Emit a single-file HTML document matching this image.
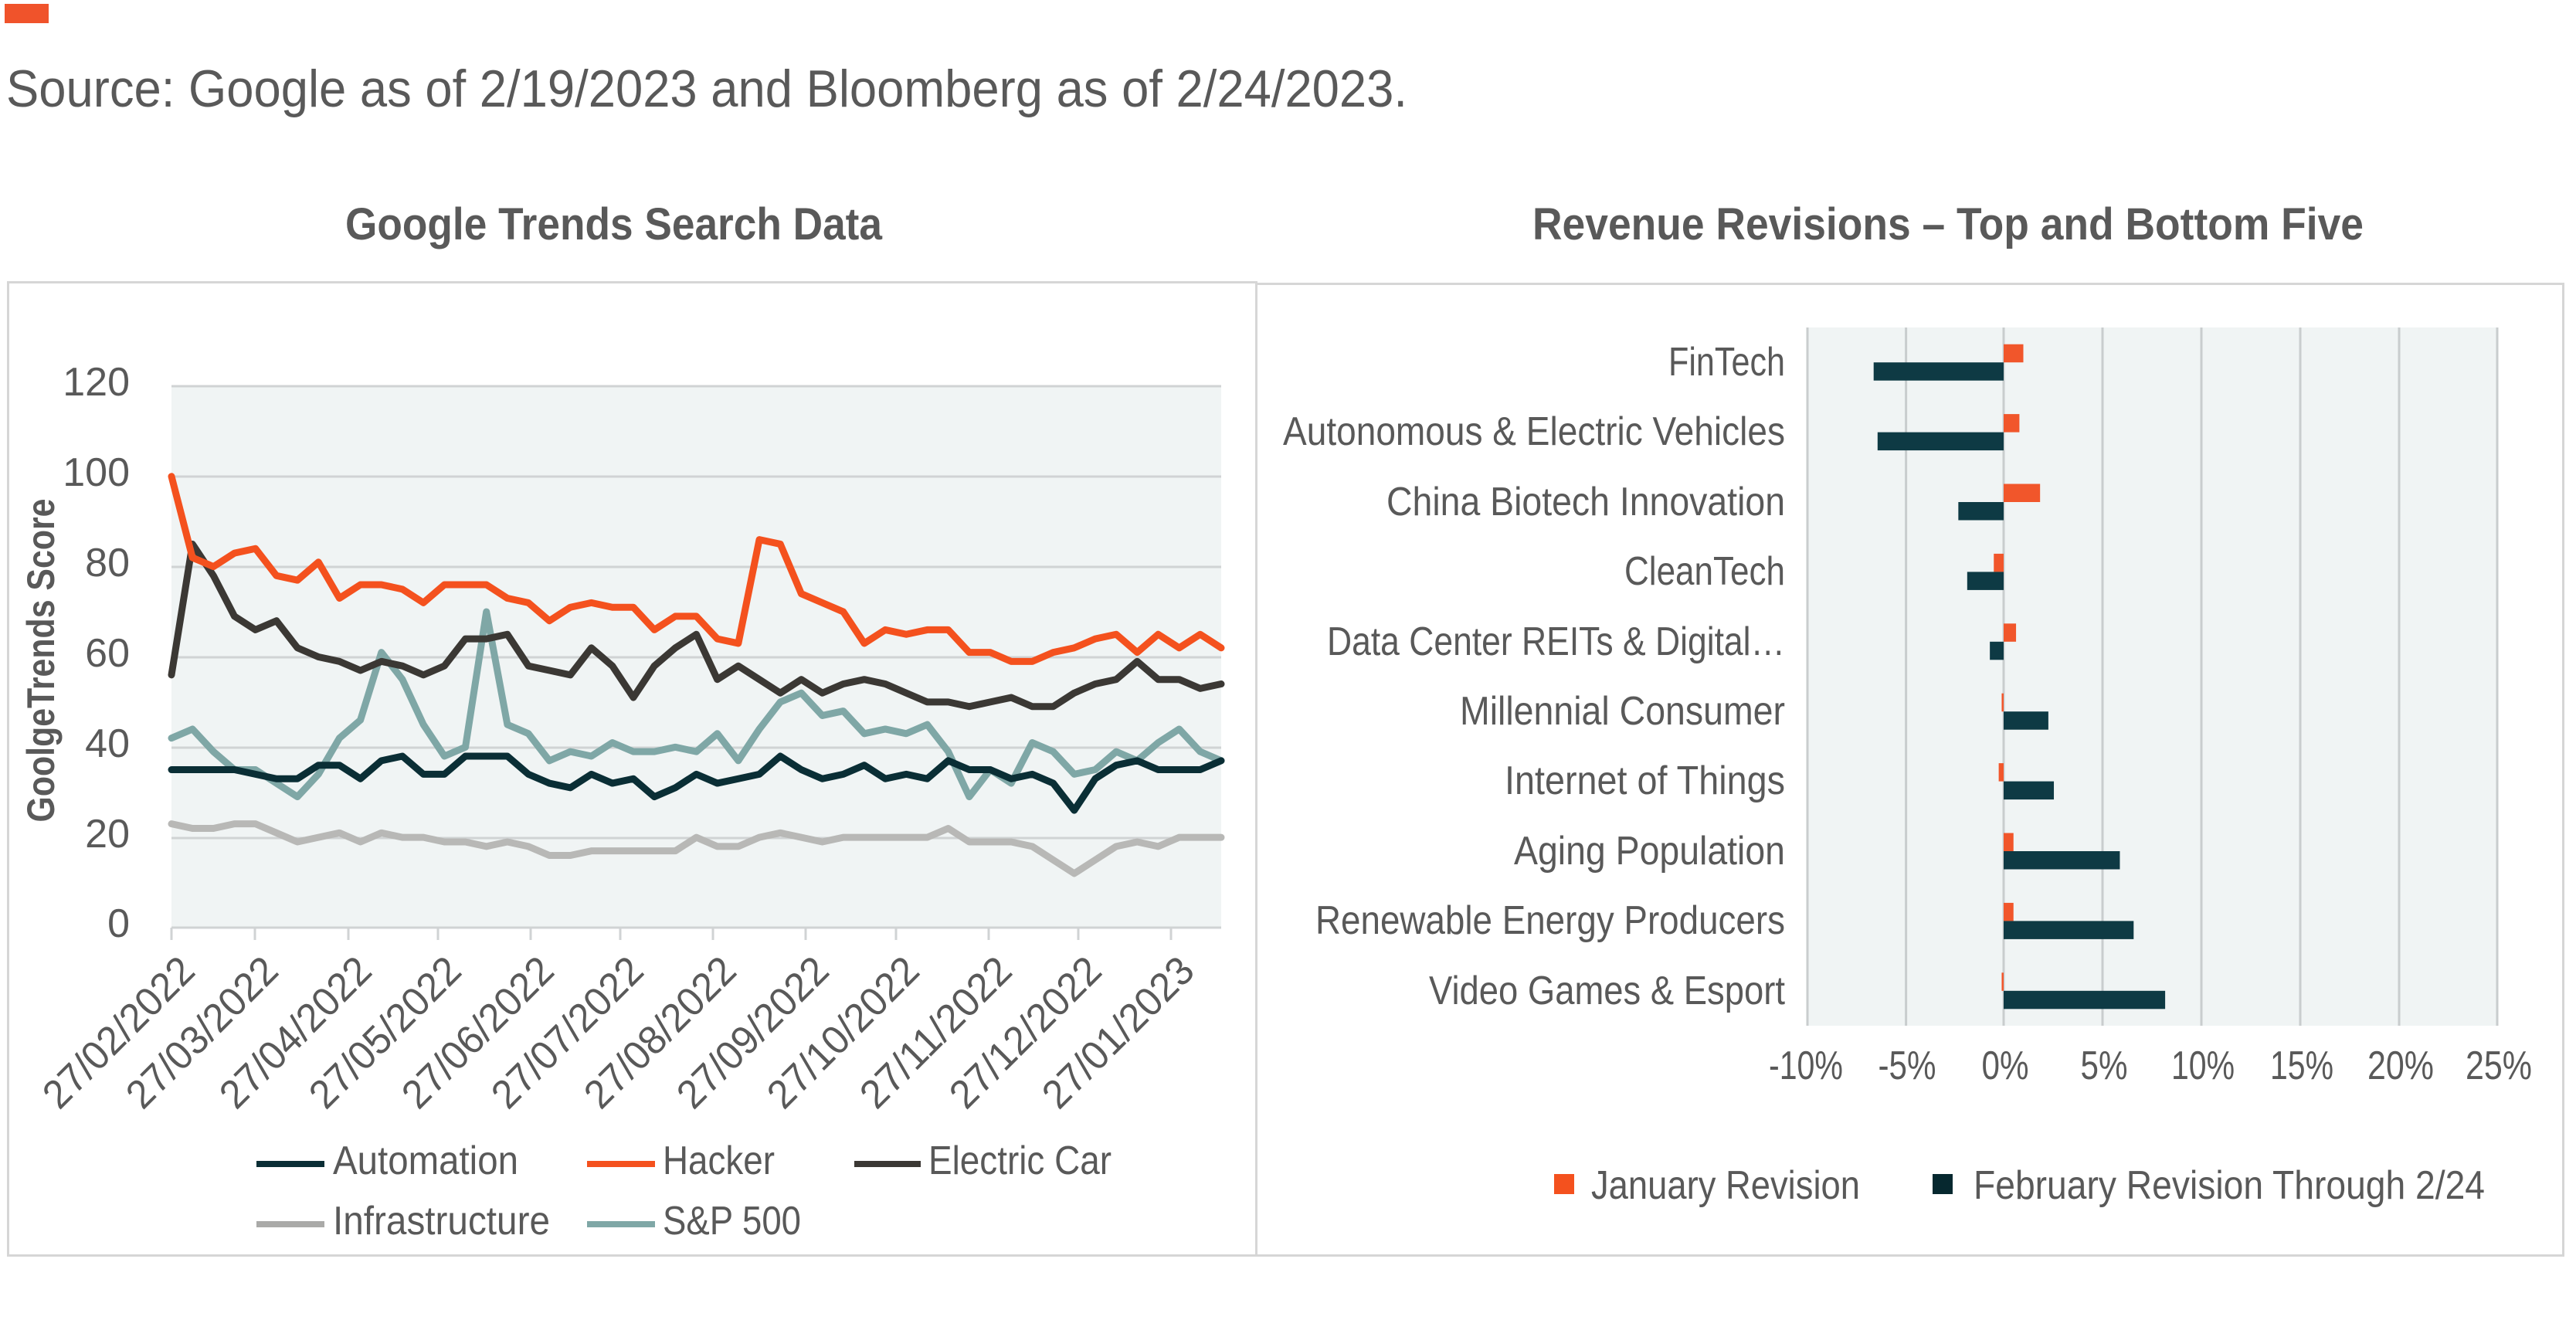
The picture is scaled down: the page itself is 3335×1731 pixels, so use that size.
<!DOCTYPE html>
<html><head><meta charset="utf-8"><style>
html,body{margin:0;padding:0;background:#fff;}
svg{display:block;}
text{font-family:"Liberation Sans Narrow","Liberation Sans",sans-serif;fill:#595959;}
</style></head><body>
<svg width="3335" height="1731" viewBox="0 0 3335 1731" xmlns="http://www.w3.org/2000/svg">
<rect x="6" y="5" width="57" height="25" fill="#f0532b"/>
<text x="8" y="138" font-size="68" textLength="1814" lengthAdjust="spacingAndGlyphs">Source: Google as of 2/19/2023 and Bloomberg as of 2/24/2023.</text>

<text x="447" y="310" font-size="58" font-weight="bold" textLength="695" lengthAdjust="spacingAndGlyphs" style="font-family:'Liberation Sans',sans-serif">Google Trends Search Data</text>
<text x="1984" y="310" font-size="58" font-weight="bold" textLength="1076" lengthAdjust="spacingAndGlyphs" style="font-family:'Liberation Sans',sans-serif">Revenue Revisions – Top and Bottom Five</text>

<rect x="10.5" y="365.5" width="1616" height="1260" fill="none" stroke="#d6d6d6" stroke-width="3"/>
<rect x="1626.5" y="367.5" width="1692" height="1258" fill="none" stroke="#d6d6d6" stroke-width="3"/>

<!-- LEFT CHART -->
<rect x="222" y="500" width="1359" height="701" fill="#f0f4f4"/>
<g stroke="#d0d3d4" stroke-width="3">
<line x1="222" y1="500" x2="1581" y2="500"/>
<line x1="222" y1="617" x2="1581" y2="617"/>
<line x1="222" y1="734" x2="1581" y2="734"/>
<line x1="222" y1="851" x2="1581" y2="851"/>
<line x1="222" y1="968" x2="1581" y2="968"/>
<line x1="222" y1="1085" x2="1581" y2="1085"/>
<line x1="222" y1="1201" x2="1581" y2="1201"/>
<line x1="222" y1="1201" x2="222" y2="1217"/>
<line x1="330" y1="1201" x2="330" y2="1217"/>
<line x1="451" y1="1201" x2="451" y2="1217"/>
<line x1="567" y1="1201" x2="567" y2="1217"/>
<line x1="687" y1="1201" x2="687" y2="1217"/>
<line x1="803" y1="1201" x2="803" y2="1217"/>
<line x1="923" y1="1201" x2="923" y2="1217"/>
<line x1="1043" y1="1201" x2="1043" y2="1217"/>
<line x1="1160" y1="1201" x2="1160" y2="1217"/>
<line x1="1280" y1="1201" x2="1280" y2="1217"/>
<line x1="1396" y1="1201" x2="1396" y2="1217"/>
<line x1="1516" y1="1201" x2="1516" y2="1217"/>
</g>
<g font-size="52" text-anchor="end">
<text x="168" y="512">120</text>
<text x="168" y="629">100</text>
<text x="168" y="746">80</text>
<text x="168" y="863">60</text>
<text x="168" y="980">40</text>
<text x="168" y="1097">20</text>
<text x="168" y="1213">0</text>
</g>
<text transform="translate(70,855) rotate(-90)" text-anchor="middle" font-size="50" font-weight="bold" textLength="419" lengthAdjust="spacingAndGlyphs">GoolgeTrends Score</text>

<g font-size="52" text-anchor="end">
<text transform="translate(255,1260) rotate(-45)" textLength="252" lengthAdjust="spacingAndGlyphs">27/02/2022</text>
<text transform="translate(363,1260) rotate(-45)" textLength="252" lengthAdjust="spacingAndGlyphs">27/03/2022</text>
<text transform="translate(484,1260) rotate(-45)" textLength="252" lengthAdjust="spacingAndGlyphs">27/04/2022</text>
<text transform="translate(600,1260) rotate(-45)" textLength="252" lengthAdjust="spacingAndGlyphs">27/05/2022</text>
<text transform="translate(720,1260) rotate(-45)" textLength="252" lengthAdjust="spacingAndGlyphs">27/06/2022</text>
<text transform="translate(836,1260) rotate(-45)" textLength="252" lengthAdjust="spacingAndGlyphs">27/07/2022</text>
<text transform="translate(956,1260) rotate(-45)" textLength="252" lengthAdjust="spacingAndGlyphs">27/08/2022</text>
<text transform="translate(1076,1260) rotate(-45)" textLength="252" lengthAdjust="spacingAndGlyphs">27/09/2022</text>
<text transform="translate(1193,1260) rotate(-45)" textLength="252" lengthAdjust="spacingAndGlyphs">27/10/2022</text>
<text transform="translate(1313,1260) rotate(-45)" textLength="252" lengthAdjust="spacingAndGlyphs">27/11/2022</text>
<text transform="translate(1429,1260) rotate(-45)" textLength="252" lengthAdjust="spacingAndGlyphs">27/12/2022</text>
<text transform="translate(1549,1260) rotate(-45)" textLength="252" lengthAdjust="spacingAndGlyphs">27/01/2023</text>
</g>

<g transform="translate(222,1201) scale(27.18,-5.842)" fill="none" stroke-width="9" stroke-linejoin="round" stroke-linecap="round">
<polyline vector-effect="non-scaling-stroke" stroke="#b8b8b6" points="0,23 1,22 2,22 3,23 4,23 5,21 6,19 7,20 8,21 9,19 10,21 11,20 12,20 13,19 14,19 15,18 16,19 17,18 18,16 19,16 20,17 21,17 22,17 23,17 24,17 25,20 26,18 27,18 28,20 29,21 30,20 31,19 32,20 33,20 34,20 35,20 36,20 37,22 38,19 39,19 40,19 41,18 42,15 43,12 44,15 45,18 46,19 47,18 48,20 49,20 50,20"/>
<polyline vector-effect="non-scaling-stroke" stroke="#7fa7a6" points="0,42 1,44 2,39 3,35 4,35 5,32 6,29 7,34 8,42 9,46 10,61 11,55 12,45 13,38 14,40 15,70 16,45 17,43 18,37 19,39 20,38 21,41 22,39 23,39 24,40 25,39 26,43 27,37 28,44 29,50 30,52 31,47 32,48 33,43 34,44 35,43 36,45 37,39 38,29 39,35 40,32 41,41 42,39 43,34 44,35 45,39 46,37 47,41 48,44 49,39 50,37"/>
<polyline vector-effect="non-scaling-stroke" stroke="#0a2e35" points="0,35 1,35 2,35 3,35 4,34 5,33 6,33 7,36 8,36 9,33 10,37 11,38 12,34 13,34 14,38 15,38 16,38 17,34 18,32 19,31 20,34 21,32 22,33 23,29 24,31 25,34 26,32 27,33 28,34 29,38 30,35 31,33 32,34 33,36 34,33 35,34 36,33 37,37 38,35 39,35 40,33 41,34 42,32 43,26 44,33 45,36 46,37 47,35 48,35 49,35 50,37"/>
<polyline vector-effect="non-scaling-stroke" stroke="#3b3834" points="0,56 1,85 2,78 3,69 4,66 5,68 6,62 7,60 8,59 9,57 10,59 11,58 12,56 13,58 14,64 15,64 16,65 17,58 18,57 19,56 20,62 21,58 22,51 23,58 24,62 25,65 26,55 27,58 28,55 29,52 30,55 31,52 32,54 33,55 34,54 35,52 36,50 37,50 38,49 39,50 40,51 41,49 42,49 43,52 44,54 45,55 46,59 47,55 48,55 49,53 50,54"/>
<polyline vector-effect="non-scaling-stroke" stroke="#f4511e" points="0,100 1,82 2,80 3,83 4,84 5,78 6,77 7,81 8,73 9,76 10,76 11,75 12,72 13,76 14,76 15,76 16,73 17,72 18,68 19,71 20,72 21,71 22,71 23,66 24,69 25,69 26,64 27,63 28,86 29,85 30,74 31,72 32,70 33,63 34,66 35,65 36,66 37,66 38,61 39,61 40,59 41,59 42,61 43,62 44,64 45,65 46,61 47,65 48,62 49,65 50,62"/>
</g>

<g stroke-width="8">
<line x1="332" y1="1507" x2="420" y2="1507" stroke="#0a2e35"/>
<line x1="760" y1="1507" x2="848" y2="1507" stroke="#f4511e"/>
<line x1="1106" y1="1507" x2="1192" y2="1507" stroke="#3b3834"/>
<line x1="332" y1="1585" x2="420" y2="1585" stroke="#aaaaa8"/>
<line x1="760" y1="1585" x2="848" y2="1585" stroke="#7fa7a6"/>
</g>
<g font-size="52">
<text x="431" y="1520" textLength="240" lengthAdjust="spacingAndGlyphs">Automation</text>
<text x="858" y="1520" textLength="145" lengthAdjust="spacingAndGlyphs">Hacker</text>
<text x="1202" y="1520" textLength="237" lengthAdjust="spacingAndGlyphs">Electric Car</text>
<text x="431" y="1598" textLength="281" lengthAdjust="spacingAndGlyphs">Infrastructure</text>
<text x="858" y="1598" textLength="179" lengthAdjust="spacingAndGlyphs">S&amp;P 500</text>
</g>

<!-- RIGHT CHART -->
<rect x="2340" y="424" width="893" height="904" fill="#f0f4f4"/>
<g stroke="#c9cdce" stroke-width="3">
<line x1="2340" y1="424" x2="2340" y2="1328"/>
<line x1="2467.6" y1="424" x2="2467.6" y2="1328"/>
<line x1="2594" y1="424" x2="2594" y2="1328"/>
<line x1="2722" y1="424" x2="2722" y2="1328"/>
<line x1="2850" y1="424" x2="2850" y2="1328"/>
<line x1="2978" y1="424" x2="2978" y2="1328"/>
<line x1="3106" y1="424" x2="3106" y2="1328"/>
<line x1="3233" y1="424" x2="3233" y2="1328"/>
</g>
<g transform="translate(2594,0) scale(25.5,1)">
<g fill="#f1562b">
<rect x="0" y="445.7" width="1.0" height="23.5"/>
<rect x="0" y="536.1" width="0.8" height="23.5"/>
<rect x="0" y="626.5" width="1.85" height="23.5"/>
<rect x="-0.5" y="716.9" width="0.5" height="23.5"/>
<rect x="0" y="807.3" width="0.63" height="23.5"/>
<rect x="-0.1" y="897.7" width="0.1" height="23.5"/>
<rect x="-0.25" y="988.1" width="0.25" height="23.5"/>
<rect x="0" y="1078.5" width="0.5" height="23.5"/>
<rect x="0" y="1168.9" width="0.5" height="23.5"/>
<rect x="-0.1" y="1259.3" width="0.1" height="23.5"/>
</g>
<g fill="#0e3a44">
<rect x="-6.6" y="469.2" width="6.6" height="23.5"/>
<rect x="-6.4" y="559.6" width="6.4" height="23.5"/>
<rect x="-2.3" y="650" width="2.3" height="23.5"/>
<rect x="-1.85" y="740.4" width="1.85" height="23.5"/>
<rect x="-0.7" y="830.8" width="0.7" height="23.5"/>
<rect x="0" y="921.2" width="2.27" height="23.5"/>
<rect x="0" y="1011.6" width="2.55" height="23.5"/>
<rect x="0" y="1102" width="5.9" height="23.5"/>
<rect x="0" y="1192.4" width="6.6" height="23.5"/>
<rect x="0" y="1282.8" width="8.2" height="23.5"/>
</g>
</g>
<g font-size="52" text-anchor="end">
<text x="2311" y="486" textLength="151" lengthAdjust="spacingAndGlyphs">FinTech</text>
<text x="2311" y="576" textLength="650" lengthAdjust="spacingAndGlyphs">Autonomous &amp; Electric Vehicles</text>
<text x="2311" y="667" textLength="516" lengthAdjust="spacingAndGlyphs">China Biotech Innovation</text>
<text x="2311" y="757" textLength="208" lengthAdjust="spacingAndGlyphs">CleanTech</text>
<text x="2311" y="848" textLength="593" lengthAdjust="spacingAndGlyphs">Data Center REITs &amp; Digital…</text>
<text x="2311" y="938" textLength="421" lengthAdjust="spacingAndGlyphs">Millennial Consumer</text>
<text x="2311" y="1028" textLength="363" lengthAdjust="spacingAndGlyphs">Internet of Things</text>
<text x="2311" y="1119" textLength="351" lengthAdjust="spacingAndGlyphs">Aging Population</text>
<text x="2311" y="1209" textLength="608" lengthAdjust="spacingAndGlyphs">Renewable Energy Producers</text>
<text x="2311" y="1300" textLength="461" lengthAdjust="spacingAndGlyphs">Video Games &amp; Esport</text>
</g>
<g font-size="52" text-anchor="middle">
<text x="2338" y="1397" textLength="96" lengthAdjust="spacingAndGlyphs">-10%</text>
<text x="2469" y="1397" textLength="75" lengthAdjust="spacingAndGlyphs">-5%</text>
<text x="2596" y="1397" textLength="61" lengthAdjust="spacingAndGlyphs">0%</text>
<text x="2724" y="1397" textLength="61" lengthAdjust="spacingAndGlyphs">5%</text>
<text x="2852" y="1397" textLength="82" lengthAdjust="spacingAndGlyphs">10%</text>
<text x="2980" y="1397" textLength="82" lengthAdjust="spacingAndGlyphs">15%</text>
<text x="3108" y="1397" textLength="86" lengthAdjust="spacingAndGlyphs">20%</text>
<text x="3235" y="1397" textLength="86" lengthAdjust="spacingAndGlyphs">25%</text>
</g>
<rect x="2012" y="1520" width="26" height="26" fill="#f4511e"/>
<text x="2060" y="1552" font-size="52" textLength="348" lengthAdjust="spacingAndGlyphs">January Revision</text>
<rect x="2502" y="1520" width="26" height="26" fill="#06282f"/>
<text x="2555" y="1552" font-size="52" textLength="662" lengthAdjust="spacingAndGlyphs">February Revision Through 2/24</text>
</svg>
</body></html>
